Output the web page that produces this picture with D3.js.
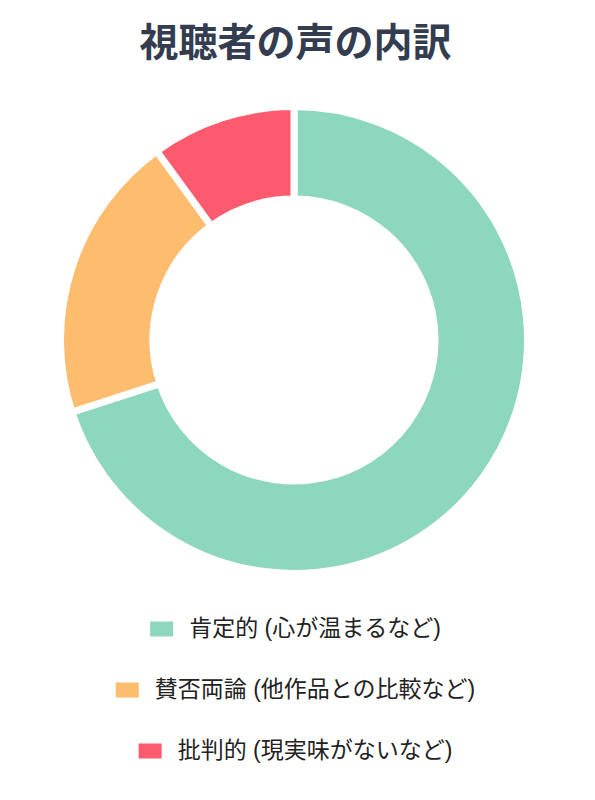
<!DOCTYPE html>
<html>
<head>
<meta charset="utf-8">
<script src="https://cdn.jsdelivr.net/npm/d3@7"></script>
<style>
  body { margin: 0; background: #fff; }
  svg { display: block; font-family: "Noto Sans CJK JP", "Noto Sans", sans-serif; }
</style>
</head>
<body>
<div id="chart"></div>
<script>
const title = "視聴者の声の内訳"
const labels = ["肯定的 (心が温まるなど)", "賛否両論 (他作品との比較など)", "批判的 (現実味がないなど)"]
const values = [70, 20, 10]
const colors = ["#8ed7bf", "#fdbc6e", "#fe5a6e"]

const width = 595, height = 800
const cx = 294, cy = 340

const svg = d3.select("#chart")
    .append("svg")
    .attr("width", width)
    .attr("height", height)

svg.append("text")
    .attr("x", width / 2 - 2)
    .attr("y", 42)
    .attr("dy", "0.35em")
    .attr("text-anchor", "middle")
    .attr("font-size", 39)
    .attr("font-weight", "bold")
    .attr("fill", "#333d4f")
    .text(title)

const pie = d3.pie().sort(null)
const arc = d3.arc().innerRadius(141).outerRadius(233.5)

const g = svg.append("g")
    .attr("transform", `translate(${cx}, ${cy})`)

g.selectAll("path")
    .data(pie(values))
    .enter().append("path")
    .attr("d", arc)
    .attr("fill", (d, i) => colors[i])
    .attr("stroke", "#fff")
    .attr("stroke-width", 7)

// legend, one centered row per item
const legendY = [628, 689, 750]
const legend = svg.selectAll(".legend-item")
    .data(labels)
    .enter().append("g")
    .attr("class", "legend-item")

legend.each(function (d, i) {
    const item = d3.select(this)
    const txt = item.append("text")
        .attr("y", legendY[i])
        .attr("dy", "0.35em")
        .attr("font-size", 23)
        .attr("font-family", "'Liberation Sans', 'Noto Sans CJK JP', sans-serif")
        .attr("fill", "#222")
        .text(d)
    const tw = txt.node().getComputedTextLength()
    const boxW = 23, boxH = 15, gap = 16
    const x0 = width / 2 - 2 - (boxW + gap + tw) / 2
    item.insert("rect", "text")
        .attr("x", x0)
        .attr("y", legendY[i] - boxH / 2 + 1)
        .attr("width", boxW)
        .attr("height", boxH)
        .attr("fill", colors[i])
    txt.attr("x", x0 + boxW + gap)
})
</script>
</body>
</html>
